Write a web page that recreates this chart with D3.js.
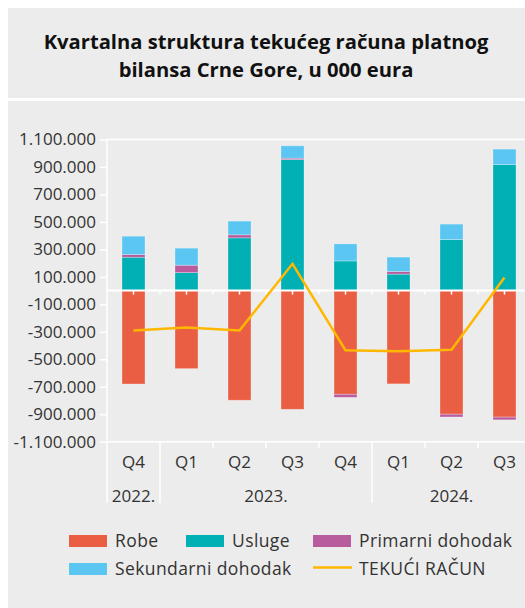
<!DOCTYPE html>
<html><head><meta charset="utf-8">
<script src="https://cdn.jsdelivr.net/npm/d3@7"></script>
<style>body{margin:0;background:#fff;} svg{display:block}</style>
</head><body><svg id="c" width="525" height="608"></svg>
<script>
// ---- data (in 000 EUR) ----
const quarters = ["Q4","Q1","Q2","Q3","Q4","Q1","Q2","Q3"];
const yearLabels = ["2022.","2023.","2024."];
const yearSpans = [1,4,3];
const robe       = [-680,-568,-798,-864,-755,-679,-900,-921];
const usluge     = [ 243, 131, 384, 954, 216, 120, 372, 918];
const primarni   = [  19,  54,  22,  10, -22,  19, -20, -20];
const sekundarni = [ 134, 124, 100,  90, 124, 105, 112, 112];
const tekuci     = [-290,-269,-290, 195,-434,-441,-431,  95];
const yTicks = [-1100,-900,-700,-500,-300,-100,100,300,500,700,900,1100];
const seriesNames = ["Robe","Usluge","Primarni dohodak","Sekundarni dohodak"];
const lineName = "TEKUĆI RAČUN";
const colors = ["#EA5E44","#00B0B5","#B85C9E","#5CC6F2"];
const lineColor = "#FFB700";

const svg = d3.select("#c");
const FONT = "'Open Sans', sans-serif";
const TXT = "#333";

// backgrounds
svg.append("rect").attr("x",8).attr("y",8).attr("width",517).attr("height",90).attr("fill","#ececec");
svg.append("rect").attr("x",8).attr("y",101).attr("width",517).attr("height",507).attr("fill","#ececec");

// title
const title = svg.append("text").attr("text-anchor","middle").attr("font-family",FONT)
  .attr("font-weight",700).attr("font-size",20.2).attr("fill","#111");
title.append("tspan").attr("x",266).attr("y",49).text("Kvartalna struktura tekućeg računa platnog");
title.append("tspan").attr("x",266).attr("y",77).text("bilansa Crne Gore, u 000 eura");

// scales
const x = d3.scaleBand().domain(d3.range(quarters.length)).range([107,531]).paddingInner(0.566).paddingOuter(0.283);
const step = x.step();
const y = d3.scaleLinear().domain([-1100,1100]).range([441.7,139.5]);

// stacked data
const table = quarters.map((q,i)=>({i, "Robe":robe[i], "Usluge":usluge[i], "Primarni dohodak":primarni[i], "Sekundarni dohodak":sekundarni[i]}));
const stack = d3.stack().keys(seriesNames).offset(d3.stackOffsetDiverging);
const layers = stack(table);

const g = svg.append("g");
layers.forEach((layer,k)=>{
  g.selectAll(null).data(layer).enter().append("rect")
    .attr("x",d=>x(d.data.i))
    .attr("width",x.bandwidth())
    .attr("y",d=>y(Math.max(d[0],d[1])))
    .attr("height",d=>Math.abs(y(d[0])-y(d[1])))
    .attr("fill",colors[k])
    .attr("stroke","rgba(255,255,255,0.35)").attr("stroke-width",0.8);
});

// axes lines (white)
const W = "#fff";
svg.append("line").attr("x1",107).attr("x2",525).attr("y1",y(1100)).attr("y2",y(1100)).attr("stroke",W).attr("stroke-width",1.5);
svg.append("line").attr("x1",107).attr("x2",525).attr("y1",y(-1100)).attr("y2",y(-1100)).attr("stroke",W).attr("stroke-width",1.5);
// y axis
const yAxis = d3.axisLeft(y).tickValues(yTicks).tickSize(7).tickPadding(4)
  .tickFormat(v=>d3.format(",")(v*1000).replace(/,/g,".").replace("−","-"));
const ya = svg.append("g").attr("transform","translate(107,0)").call(yAxis);
ya.select(".domain").remove();
ya.selectAll("line").attr("stroke",W).attr("stroke-width",1.5);
ya.selectAll("text").attr("font-family",FONT).attr("font-size",17).attr("fill",TXT);
svg.append("line").attr("x1",107).attr("x2",107).attr("y1",y(1100)).attr("y2",503).attr("stroke",W).attr("stroke-width",1.5);

// zero line with ticks at centers and boundaries
svg.append("line").attr("x1",107).attr("x2",525).attr("y1",y(0)).attr("y2",y(0)).attr("stroke",W).attr("stroke-width",2);
quarters.forEach((q,i)=>{
  const cx = x(i)+x.bandwidth()/2;
  svg.append("line").attr("x1",cx).attr("x2",cx).attr("y1",y(0)).attr("y2",y(0)+4).attr("stroke",W).attr("stroke-width",1.5);
  const bx = 107+step*(i+1);
  if (bx<525) svg.append("line").attr("x1",bx).attr("x2",bx).attr("y1",y(0)).attr("y2",y(0)+4).attr("stroke",W).attr("stroke-width",1.5);
});

// bottom category axis
const yb = y(-1100);
let acc = 0;
const bounds = [0];
yearSpans.forEach(s=>{acc+=s; bounds.push(acc);});
for (let i=1;i<quarters.length;i++){
  const bx = 107+step*i;
  const isYear = bounds.includes(i);
  svg.append("line").attr("x1",bx).attr("x2",bx).attr("y1",yb).attr("y2",isYear?503:yb+6).attr("stroke",W).attr("stroke-width",1.5);
}
svg.selectAll(null).data(quarters).enter().append("text")
  .attr("x",(d,i)=>x(i)+x.bandwidth()/2).attr("y",468).attr("text-anchor","middle")
  .attr("font-family",FONT).attr("font-size",17).attr("fill",TXT).text(d=>d);
yearLabels.forEach((lab,k)=>{
  const a = bounds[k], b = bounds[k+1]-1;
  const cx = (x(a)+x(b)+x.bandwidth())/2;
  svg.append("text").attr("x",cx).attr("y",502).attr("text-anchor","middle")
    .attr("font-family",FONT).attr("font-size",17).attr("fill",TXT).text(lab);
});

// line
const line = d3.line().x((d,i)=>x(i)+x.bandwidth()/2).y(d=>y(d));
svg.append("path").datum(tekuci).attr("d",line).attr("fill","none").attr("stroke",lineColor).attr("stroke-width",2.5);

// legend
const leg = [
  {name:seriesNames[0], c:colors[0], x:69, y:535, type:"rect"},
  {name:seriesNames[1], c:colors[1], x:186, y:535, type:"rect"},
  {name:seriesNames[2], c:colors[2], x:313, y:535, type:"rect"},
  {name:seriesNames[3], c:colors[3], x:69, y:563, type:"rect"},
  {name:lineName, c:lineColor, x:313, y:563, type:"line"}
];
leg.forEach(l=>{
  if (l.type==="rect") svg.append("rect").attr("x",l.x).attr("y",l.y).attr("width",38).attr("height",12).attr("fill",l.c);
  else svg.append("line").attr("x1",l.x).attr("x2",l.x+39).attr("y1",l.y+4.5).attr("y2",l.y+4.5).attr("stroke",l.c).attr("stroke-width",2.5);
  svg.append("text").attr("x",l.x+46).attr("y",l.y+12).attr("font-family",FONT).attr("font-size",17.5)
    .attr("letter-spacing",0.4).attr("fill",TXT).text(l.name);
});
</script></body></html>
